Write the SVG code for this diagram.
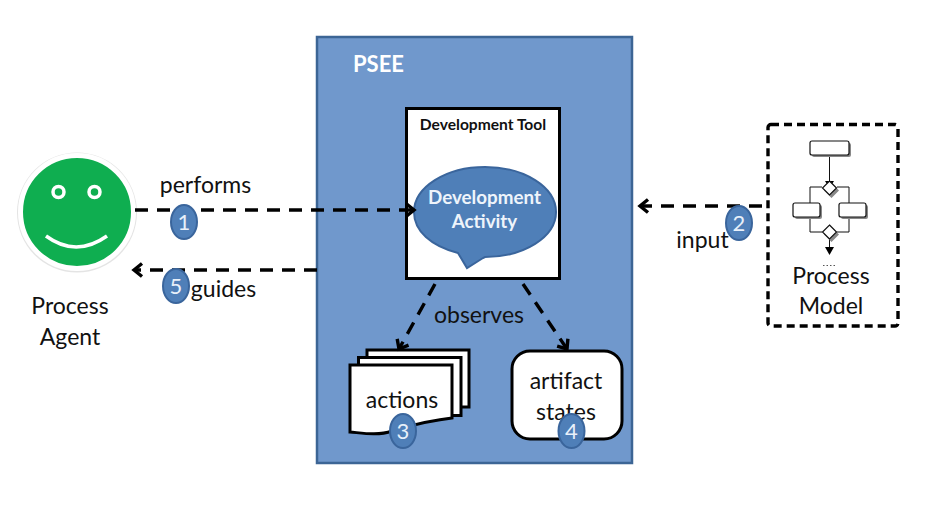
<svg xmlns="http://www.w3.org/2000/svg" width="925" height="506" viewBox="0 0 925 506">
<style>
text{font-family:"Lato","Open Sans","Liberation Sans",sans-serif;fill:#111;text-anchor:middle}
.l{font-size:23px}
.b{fill:#4f7fb8;stroke:#3a659c;stroke-width:2}
.n{font-size:22px;fill:#e8f0fa}
.c{fill:none;stroke:#000;stroke-width:3.4;stroke-dasharray:13 9;marker-end:url(#a)}
.t{fill:none;stroke:#111;stroke-width:1}
.s{fill:#fff;stroke:#111;stroke-width:1.2}
.sh{fill:#888;stroke:none}
.d{fill:#fff;stroke:#000;stroke-width:3}
</style>
<defs>
<marker id="a" markerUnits="userSpaceOnUse" markerWidth="18" markerHeight="18" refX="14" refY="8" orient="auto">
<path d="M6 1.500 L14 8 L6 14.500" fill="none" stroke="#000" stroke-width="3.400"/>
</marker>
</defs>
<rect width="925" height="506" fill="#fff"/>
<g id="psee">
<rect x="317" y="37" width="315" height="426" fill="#7098cc" stroke="#3c6595" stroke-width="2.500"/>
<text x="378.500" y="72" font-size="22" font-weight="700" style="fill:#fff">PSEE</text>
</g>
<g id="agent">
<circle cx="77" cy="212.500" r="60" fill="#e4e4e4"/>
<circle cx="77" cy="212" r="56.500" fill="#0fae50" stroke="#fff" stroke-width="5"/>
<circle cx="58.500" cy="192" r="5.500" fill="#0fae50" stroke="#fff" stroke-width="3.500"/>
<circle cx="94.500" cy="192" r="5.500" fill="#0fae50" stroke="#fff" stroke-width="3.500"/>
<path d="M46 236 Q76 258 107 236" fill="none" stroke="#fff" stroke-width="3.500"/>
<text class="l" x="70" y="314">Process</text>
<text class="l" x="70" y="345">Agent</text>
</g>
<g id="tool">
<rect x="406.500" y="108.500" width="153" height="170" fill="#fff" stroke="#000" stroke-width="3"/>
<text x="483" y="130" font-size="15.600" font-weight="700">Development Tool</text>
</g>
<g id="activity">
<path d="M458 253 C431 246 414 231 414 212 C414 187 446 167 485 167 C524 167 556 187 556 212 C556 237 524 257 485 257 L483 258 L467 268 Z" fill="#4f7fb8" stroke="#3a659c" stroke-width="2"/>
<text x="484.500" y="204" font-size="18.800" font-weight="700" style="fill:#eef4fb">Development</text>
<text x="484.500" y="228" font-size="18.800" font-weight="700" style="fill:#eef4fb">Activity</text>
</g>
<g id="actions">
<rect class="d" x="367" y="350" width="102" height="57"/>
<rect class="d" x="358.500" y="357.500" width="102.500" height="58"/>
<path class="d" d="M350 365 H452 V418 C425 421 410 426 392 431 C378 436 362 433 350 432 Z"/>
<text class="l" x="402" y="408">actions</text>
</g>
<g id="states">
<rect x="512" y="351" width="110" height="88" rx="18" fill="#fff" stroke="#000" stroke-width="3"/>
<text class="l" x="566" y="389">artifact</text>
<text class="l" x="566" y="420">states</text>
</g>
<g id="model">
<rect x="768" y="124.500" width="130" height="201.500" rx="3" fill="#fff" stroke="#000" stroke-width="3.400" stroke-dasharray="8 5"/>
<path class="t" d="M829.500 155V181M822 187H810V203M837 187H849V203M810 217V232H822M849 217V232H837M829.500 239V247"/>
<path d="M825 181H834L829.500 188ZM825 247H834L829.500 255Z" fill="#000"/>
<rect class="sh" x="812" y="143" width="39" height="14" rx="2"/>
<rect class="s" x="810" y="141" width="39" height="14" rx="2"/>
<rect class="sh" x="795" y="205" width="27" height="14" rx="2"/>
<rect class="s" x="793" y="203" width="27" height="14" rx="2"/>
<rect class="sh" x="841" y="205" width="27" height="14" rx="2"/>
<rect class="s" x="839" y="203" width="27" height="14" rx="2"/>
<path class="sh" d="M831.500 183L839 190.500L831.500 198L824 190.500ZM831.500 227L839 234.500L831.500 242L824 234.500Z"/>
<path class="s" d="M829.500 181L836.500 188L829.500 195L822.500 188ZM829.500 225L836.500 232L829.500 239L822.500 232Z"/>
<path d="M823 265.500H836" fill="none" stroke="#555" stroke-width="1" stroke-dasharray="1.500 2"/>
<text class="l" x="831" y="284">Process</text>
<text class="l" x="831" y="314">Model</text>
</g>
<g id="connectors">
<path class="c" d="M135 210H414"/>
<path class="c" d="M317 270H134"/>
<path class="c" d="M762 206H640"/>
<path class="c" d="M435 284L399 349"/>
<path class="c" d="M523 284L567 349"/>
</g>
<g id="labels">
<text class="l" x="205.500" y="193">performs</text>
<text class="l" x="223.500" y="297">guides</text>
<text class="l" x="702.500" y="248">input</text>
<text class="l" x="479" y="323">observes</text>
</g>
<g id="badge1"><ellipse class="b" cx="184" cy="222" rx="13" ry="17"/><text class="n" x="184" y="230">1</text></g>
<g id="badge2"><ellipse class="b" cx="739" cy="223" rx="13" ry="17"/><text class="n" x="739" y="231">2</text></g>
<g id="badge3"><ellipse class="b" cx="403" cy="431" rx="13" ry="17"/><text class="n" x="403" y="439">3</text></g>
<g id="badge4"><ellipse class="b" cx="571.500" cy="431" rx="13" ry="17"/><text class="n" x="571.500" y="439">4</text></g>
<g id="badge5"><ellipse class="b" cx="176" cy="286" rx="13" ry="17"/><text class="n" x="176" y="294">5</text></g>
</svg>
